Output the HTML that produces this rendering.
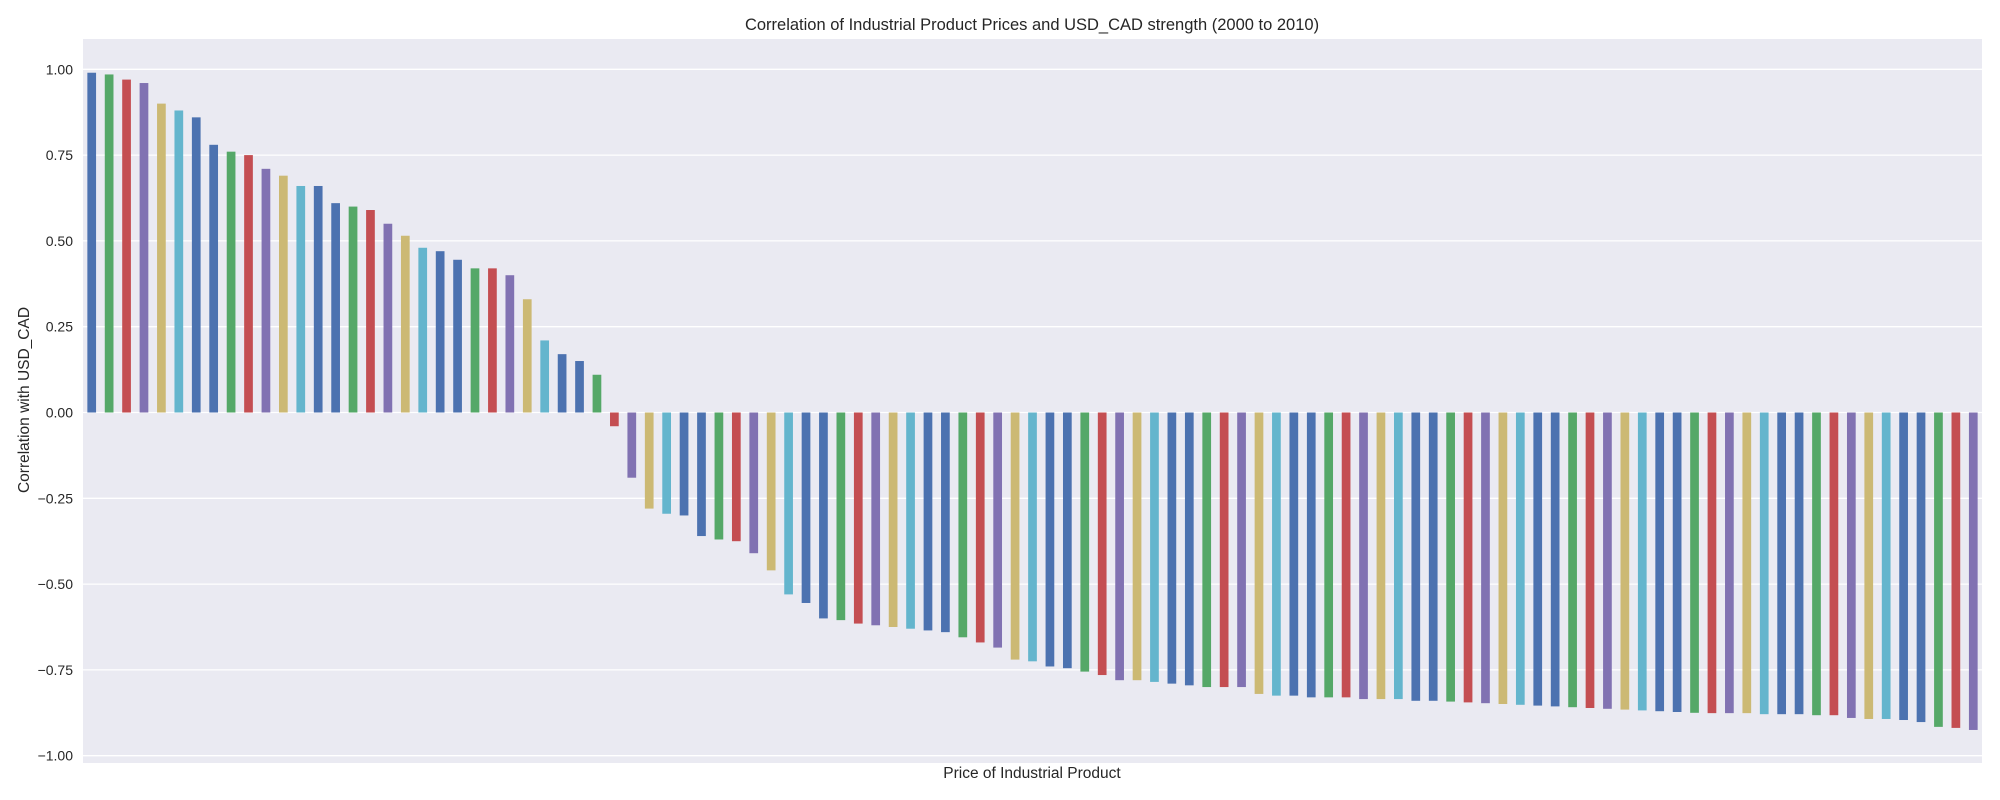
<!DOCTYPE html>
<html><head><meta charset="utf-8"><style>body{margin:0;background:#fff}svg{display:block;font-family:"Liberation Sans",sans-serif}</style></head>
<body>
<svg id="s" width="2000" height="800" xmlns="http://www.w3.org/2000/svg">
<rect x="83" y="39" width="1899" height="724" fill="#EAEAF2"/>
<g id="grid"></g>
<g id="bars"></g>
<text x="1032" y="30" font-size="16.5" text-anchor="middle" fill="#262626">Correlation of Industrial Product Prices and USD_CAD strength (2000 to 2010)</text>
<text x="1032" y="778" font-size="15.5" text-anchor="middle" fill="#262626">Price of Industrial Product</text>
<text transform="translate(29,400) rotate(-90)" font-size="15.5" text-anchor="middle" fill="#262626">Correlation with USD_CAD</text>
<g id="ticks" font-size="14" fill="#262626" text-anchor="end"></g>
</svg>
<script>
var y0=412.5,k=343.2;
var g=document.getElementById('grid'),t=document.getElementById('ticks'),b=document.getElementById('bars');
var ns='http://www.w3.org/2000/svg';
for(var v=-1;v<=1.001;v+=0.25){var y=y0-v*k;
var l=document.createElementNS(ns,'line');l.setAttribute('x1',83);l.setAttribute('x2',1982);l.setAttribute('y1',y);l.setAttribute('y2',y);l.setAttribute('stroke','#fff');l.setAttribute('stroke-width','1.3');g.appendChild(l);
var tx=document.createElementNS(ns,'text');tx.setAttribute('x',73);tx.setAttribute('y',y+5);tx.textContent=(v<0?'\u2212':'')+Math.abs(v).toFixed(2);t.appendChild(tx);}
var vals=[0.99,0.985,0.97,0.96,0.90,0.88,0.86,0.78,0.76,0.75,0.71,0.69,0.66,0.66,0.61,0.60,0.59,0.55,0.515,0.48,0.47,0.445,0.42,0.42,0.40,0.33,0.21,0.17,0.15,0.11,
-0.04,-0.19,-0.28,-0.295,-0.30,-0.36,-0.37,-0.375,-0.41,-0.46,-0.53,-0.555,-0.60,-0.605,-0.615,-0.62,-0.625,-0.63,-0.635,-0.64,-0.655,-0.67,-0.685,-0.72,-0.725,-0.74,-0.745,-0.755,-0.765,-0.78,-0.78,-0.785,-0.79,-0.795,-0.80,-0.80,-0.80,-0.82,-0.825,-0.825,-0.83,-0.83,-0.83,-0.835,-0.835,-0.835,-0.84,-0.84];
var n0=vals.length;for(var i=n0;i<93;i++){vals.push(-0.84-0.035*(i-n0+1)/(93-n0));}
vals=vals.concat([-0.876,-0.876,-0.876,-0.879,-0.879,-0.879,-0.882,-0.882,-0.89,-0.893,-0.893,-0.896,-0.902,-0.916,-0.919,-0.925]);
var cols=['#4C72B0','#55A868','#C44E52','#8172B2','#CCB974','#64B5CD','#4C72B0'];
var bw=1899/109;
for(var i=0;i<vals.length;i++){var r=document.createElementNS(ns,'rect');var v=vals[i];
r.setAttribute('x',83+bw*(i+0.25));r.setAttribute('width',bw*0.5);
r.setAttribute('y',v>0?y0-v*k:y0);r.setAttribute('height',Math.abs(v)*k);r.setAttribute('fill',cols[i%7]);b.appendChild(r);}
</script>
</body></html>
